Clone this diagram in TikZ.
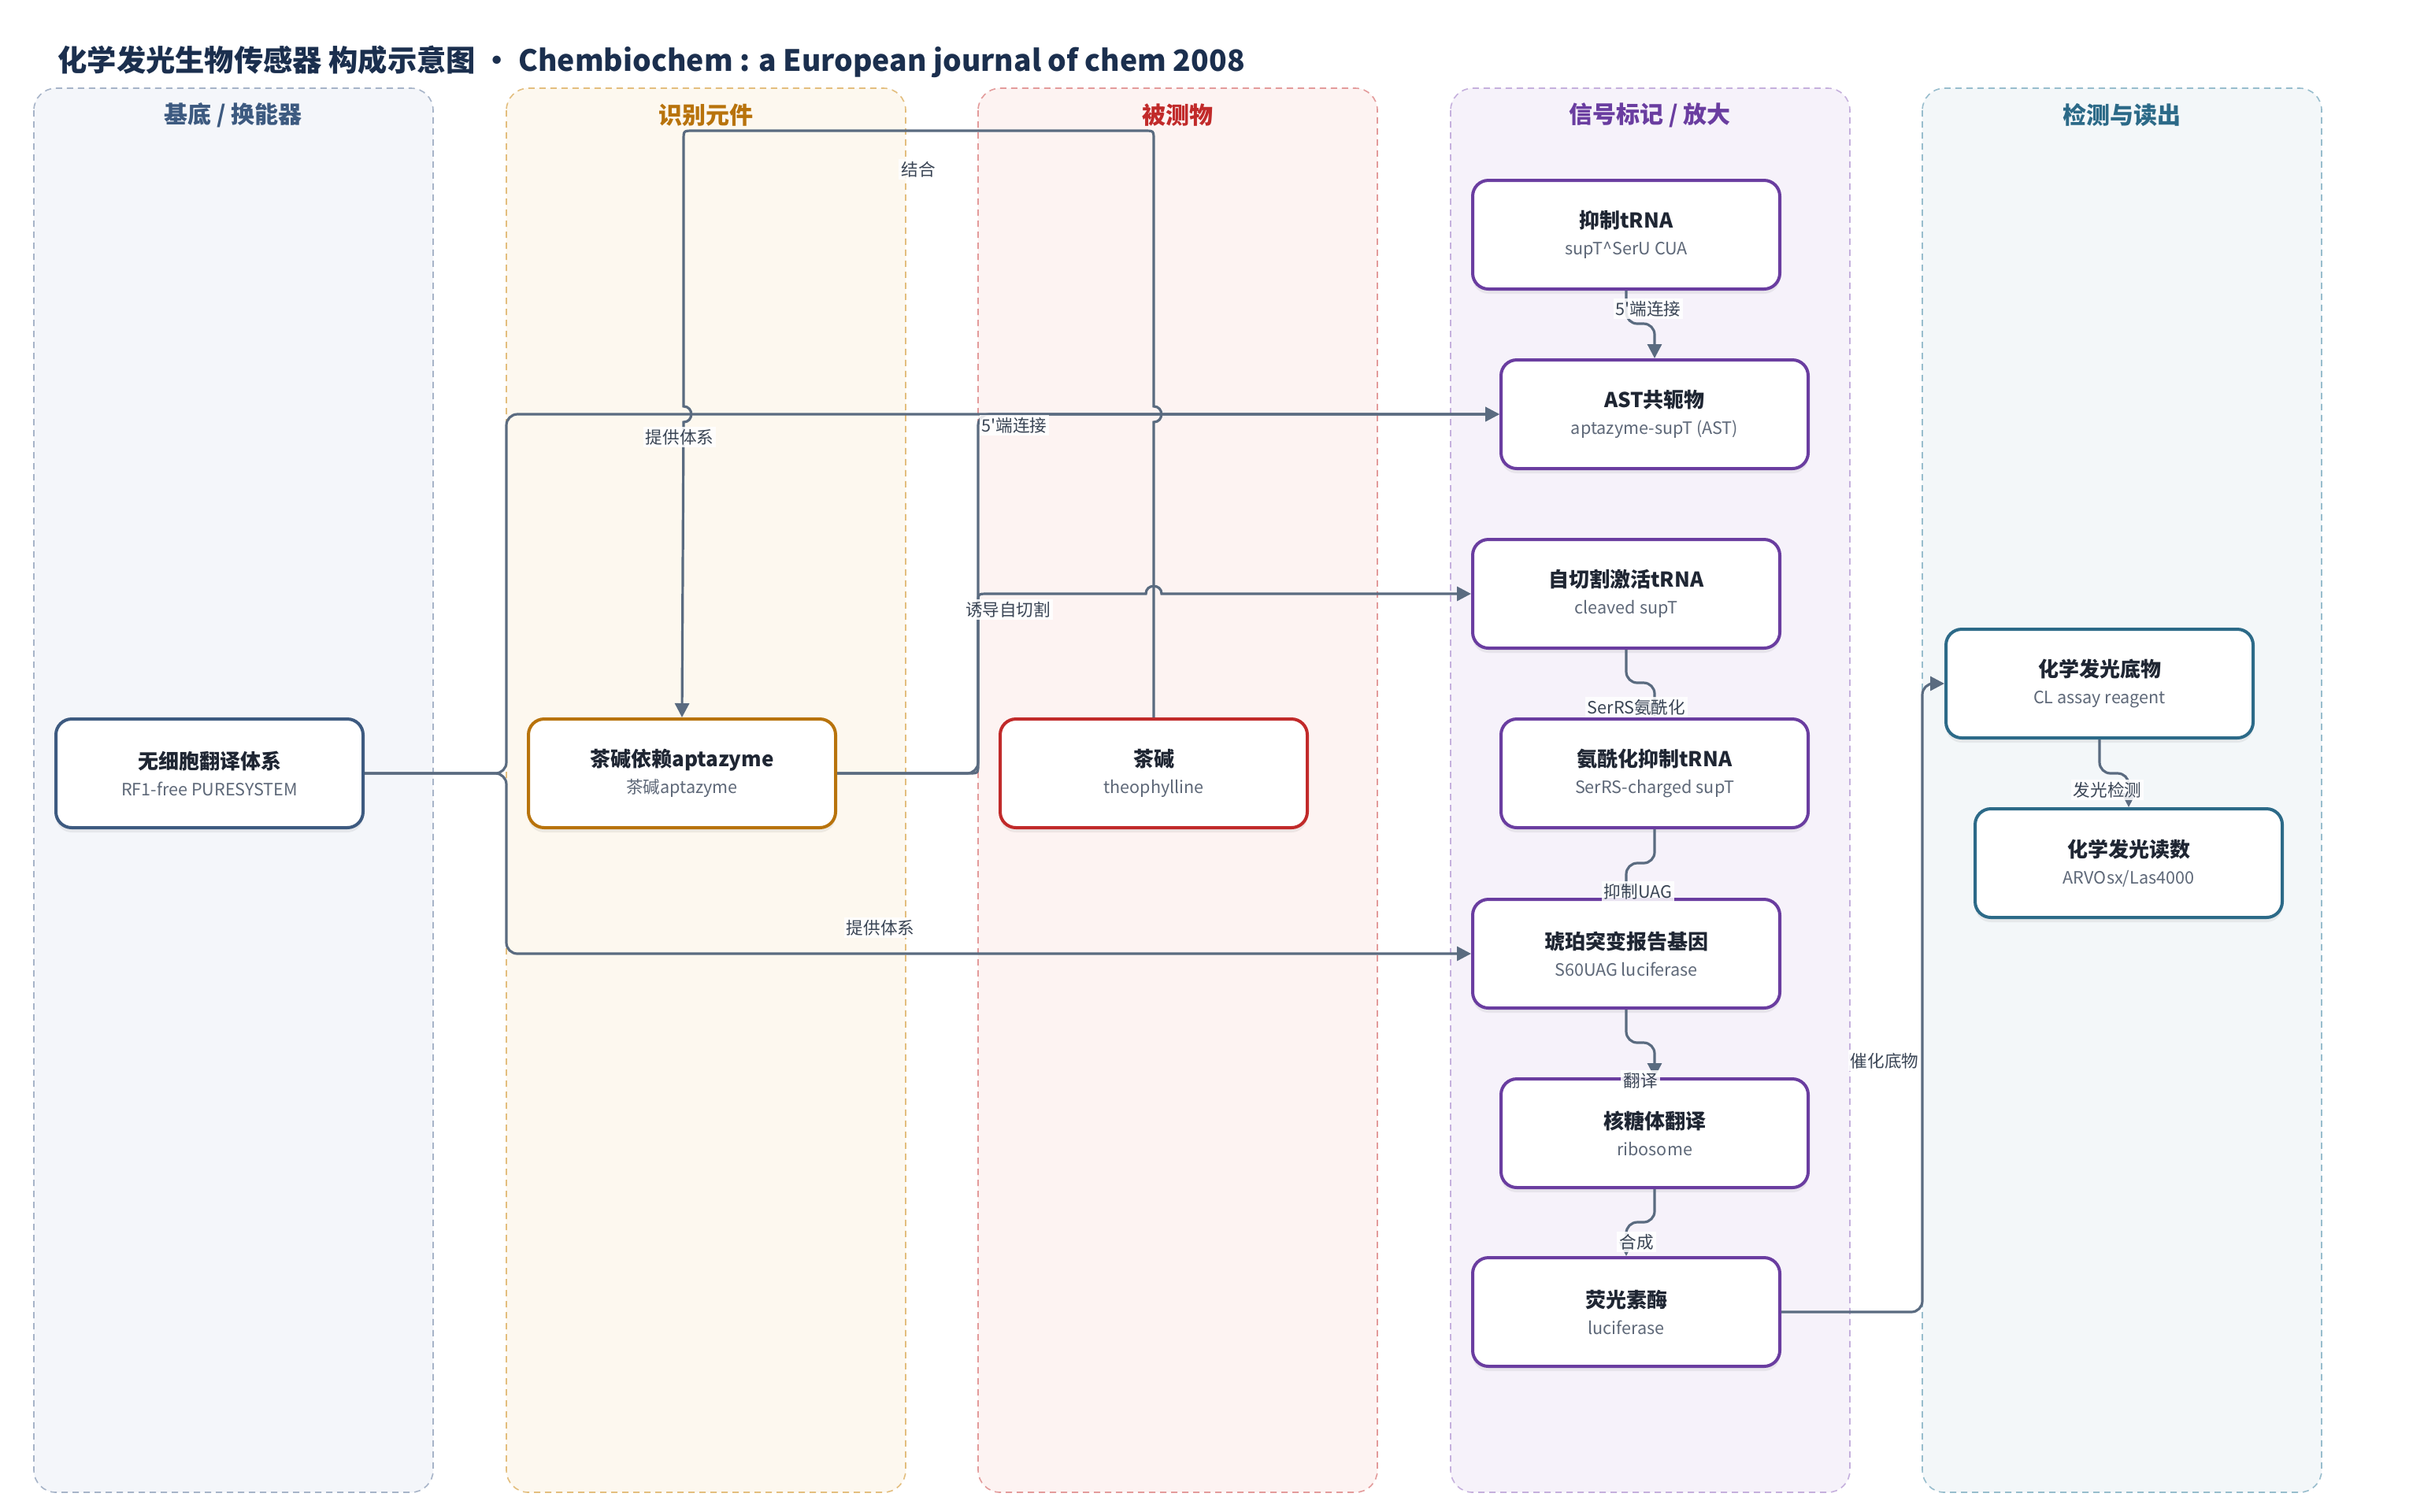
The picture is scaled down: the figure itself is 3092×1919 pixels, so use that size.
\documentclass[tikz,border=0pt]{standalone}
\usepackage{fontspec}
\setmainfont{Noto Sans CJK SC}
\usetikzlibrary{arrows.meta,shadows}
\definecolor{tinta}{HTML}{1B2F4E}
\definecolor{fio}{HTML}{5A6B80}
\definecolor{rot}{HTML}{3A4555}
\definecolor{escuro}{HTML}{1F2633}
\definecolor{cinza}{HTML}{5E6878}
\definecolor{fundoA}{HTML}{F4F6FA}
\definecolor{fundoL}{HTML}{FDF8EF}
\definecolor{fundoC}{HTML}{FDF3F2}
\definecolor{fundoR}{HTML}{F6F2FA}
\definecolor{fundoP}{HTML}{F3F7F9}
\definecolor{tracoA}{HTML}{A7B4C8}
\definecolor{tracoL}{HTML}{E3BE7E}
\definecolor{tracoC}{HTML}{E39B9B}
\definecolor{tracoR}{HTML}{C5B0DD}
\definecolor{tracoP}{HTML}{98BDCD}
\definecolor{corA}{HTML}{3D5A80}
\definecolor{corL}{HTML}{B8730C}
\definecolor{corC}{HTML}{C12A2A}
\definecolor{corR}{HTML}{6A3DA0}
\definecolor{corP}{HTML}{2C6A88}
\begin{document}
\begin{tikzpicture}[
  x=0.5pt, y=-0.5pt,
  caixa/.style={draw, fill=white, rounded corners=10pt, line width=2pt,
    minimum width=195pt, minimum height=69pt, align=center, inner sep=2pt,
    text=escuro, font=\fontsize{13}{17}\selectfont,
    drop shadow={opacity=0.12, shadow xshift=0pt, shadow yshift=-3pt}},
  raia/.style={rounded corners=14pt, line width=0.8pt, dash pattern=on 4pt off 3pt},
  cabeca/.style={font=\fontsize{15}{18}\selectfont\bfseries, inner sep=0pt},
  liga/.style={draw=fio, line width=1.6pt, -{Triangle[length=9pt,width=9pt]}},
  rotulo/.style={fill=white, fill opacity=0.85, text opacity=1, text=rot,
    inner sep=1.5pt, font=\fontsize{10.8}{13}\selectfont}
]
\tikzset{
  azul/.style={draw=corA},
  laranja/.style={draw=corL},
  carmim/.style={draw=corC},
  roxo/.style={draw=corR},
  petroleo/.style={draw=corP}
}
\useasboundingbox (0,0) rectangle (3092,1919);
\fill[white] (0,0) rectangle (3092,1919);

\node[anchor=west, inner sep=0pt, text=tinta, font=\fontsize{18.65}{23}\selectfont\bfseries] (titulo) at (73,78)
  {化学发光生物传感器 构成示意图 • Chembiochem : a European journal of chem 2008};

\draw[raia, draw=tracoA, fill=fundoA] (43,112) rectangle (550,1895);
\draw[raia, draw=tracoL, fill=fundoL] (643,112) rectangle (1150,1895);
\draw[raia, draw=tracoC, fill=fundoC] (1242,112) rectangle (1749,1895);
\draw[raia, draw=tracoR, fill=fundoR] (1842,112) rectangle (2349,1895);
\draw[raia, draw=tracoP, fill=fundoP] (2441,112) rectangle (2948,1895);
\node[cabeca, text=corA] (cab1) at (296,146) {基底 / 换能器};
\node[cabeca, text=corL] (cab2) at (896,146) {识别元件};
\node[cabeca, text=corC] (cab3) at (1495,146) {被测物};
\node[cabeca, text=corR] (cab4) at (2095,146) {信号标记 / 放大};
\node[cabeca, text=corP] (cab5) at (2694,146) {检测与读出};

\node[caixa, azul] (sistema) at (266,982)
  {\textbf{无细胞翻译体系}\\{\color{cinza}\fontsize{10.8}{17}\selectfont RF1-free PURESYSTEM}};
\node[caixa, laranja] (aptazima) at (866,982)
  {\textbf{茶碱依赖aptazyme}\\{\color{cinza}\fontsize{10.8}{17}\selectfont 茶碱aptazyme}};
\node[caixa, carmim] (teofilina) at (1465,982)
  {\textbf{茶碱}\\{\color{cinza}\fontsize{10.8}{17}\selectfont theophylline}};
\node[caixa, roxo] (supt) at (2065,298)
  {\textbf{抑制tRNA}\\{\color{cinza}\fontsize{10.8}{17}\selectfont supT\textasciicircum SerU CUA}};
\node[caixa, roxo] (ast) at (2101,526)
  {\textbf{AST共轭物}\\{\color{cinza}\fontsize{10.8}{17}\selectfont aptazyme-supT (AST)}};
\node[caixa, roxo] (clivado) at (2065,754)
  {\textbf{自切割激活tRNA}\\{\color{cinza}\fontsize{10.8}{17}\selectfont cleaved supT}};
\node[caixa, roxo] (carregado) at (2101,982)
  {\textbf{氨酰化抑制tRNA}\\{\color{cinza}\fontsize{10.8}{17}\selectfont SerRS-charged supT}};
\node[caixa, roxo] (reporter) at (2065,1211)
  {\textbf{琥珀突变报告基因}\\{\color{cinza}\fontsize{10.8}{17}\selectfont S60UAG luciferase}};
\node[caixa, roxo] (ribossomo) at (2101,1439)
  {\textbf{核糖体翻译}\\{\color{cinza}\fontsize{10.8}{17}\selectfont ribosome}};
\node[caixa, roxo] (luciferase) at (2065,1666)
  {\textbf{荧光素酶}\\{\color{cinza}\fontsize{10.8}{17}\selectfont luciferase}};
\node[caixa, petroleo] (substrato) at (2666,868)
  {\textbf{化学发光底物}\\{\color{cinza}\fontsize{10.8}{17}\selectfont CL assay reagent}};
\node[caixa, petroleo] (leitura) at (2703,1096)
  {\textbf{化学发光读数}\\{\color{cinza}\fontsize{10.8}{17}\selectfont ARVOsx/Las4000}};

\draw[liga] (teofilina.north) -- (1465,536) .. controls (1478,536) and (1478,516) .. (1465,516)
  -- (1465,178) .. controls (1465,166) .. (1453,166) -- (880,166) .. controls (868,166) .. (868,178)
  -- (868,516) .. controls (881,516) and (881,536) .. (868,536) -- (aptazima.north);
\draw[liga, rounded corners=7pt] (sistema.east) -- (643,982) -- (643,526) -- (ast.west);
\draw[liga, rounded corners=7pt] (sistema.east) -- (643,982) -- (643,1211) -- (reporter.west);
\draw[liga, rounded corners=7pt] (aptazima.east) -- (1242,982) -- (1242,526) -- (ast.west);
\draw[liga] (aptazima.east) -- (1230,982) .. controls (1242,982) .. (1242,970) -- (1242,766)
  .. controls (1242,754) .. (1254,754) -- (1455,754) .. controls (1455,741) and (1475,741) .. (1475,754)
  -- (clivado.west);
\draw[liga, rounded corners=7pt] (supt.south) -- (2065,411) -- (2101,411) -- (ast.north);
\draw[liga, rounded corners=7pt] (clivado.south) -- (2065,867) -- (2101,867) -- (carregado.north);
\draw[liga, rounded corners=7pt] (carregado.south) -- (2101,1096) -- (2065,1096) -- (reporter.north);
\draw[liga, rounded corners=7pt] (reporter.south) -- (2065,1324) -- (2101,1324) -- (ribossomo.north);
\draw[liga, rounded corners=7pt] (ribossomo.south) -- (2101,1552) -- (2065,1552) -- (luciferase.north);
\draw[liga, rounded corners=7pt] (luciferase.east) -- (2441,1666) -- (2441,868) -- (substrato.west);
\draw[liga, rounded corners=7pt] (substrato.south) -- (2666,982) -- (2703,982) -- (leitura.north);

\node[rotulo] (r1) at (1166,215) {结合};
\node[rotulo] (r2) at (863,555) {提供体系};
\node[rotulo] (r3) at (1288,540) {5\XeTeXglyph\XeTeXcharglyph"27\relax 端连接};
\node[rotulo] (r4) at (1280,774) {诱导自切割};
\node[rotulo] (r5) at (1118,1178) {提供体系};
\node[rotulo] (r6) at (2093,392) {5\XeTeXglyph\XeTeXcharglyph"27\relax 端连接};
\node[rotulo] (r7) at (2078,898) {SerRS氨酰化};
\node[rotulo] (r8) at (2080,1132) {抑制UAG};
\node[rotulo] (r9) at (2083,1372) {翻译};
\node[rotulo] (r10) at (2078,1577) {合成};
\node[rotulo] (r11) at (2393,1347) {催化底物};
\node[rotulo] (r12) at (2676,1003) {发光检测};
\end{tikzpicture}
\end{document}
